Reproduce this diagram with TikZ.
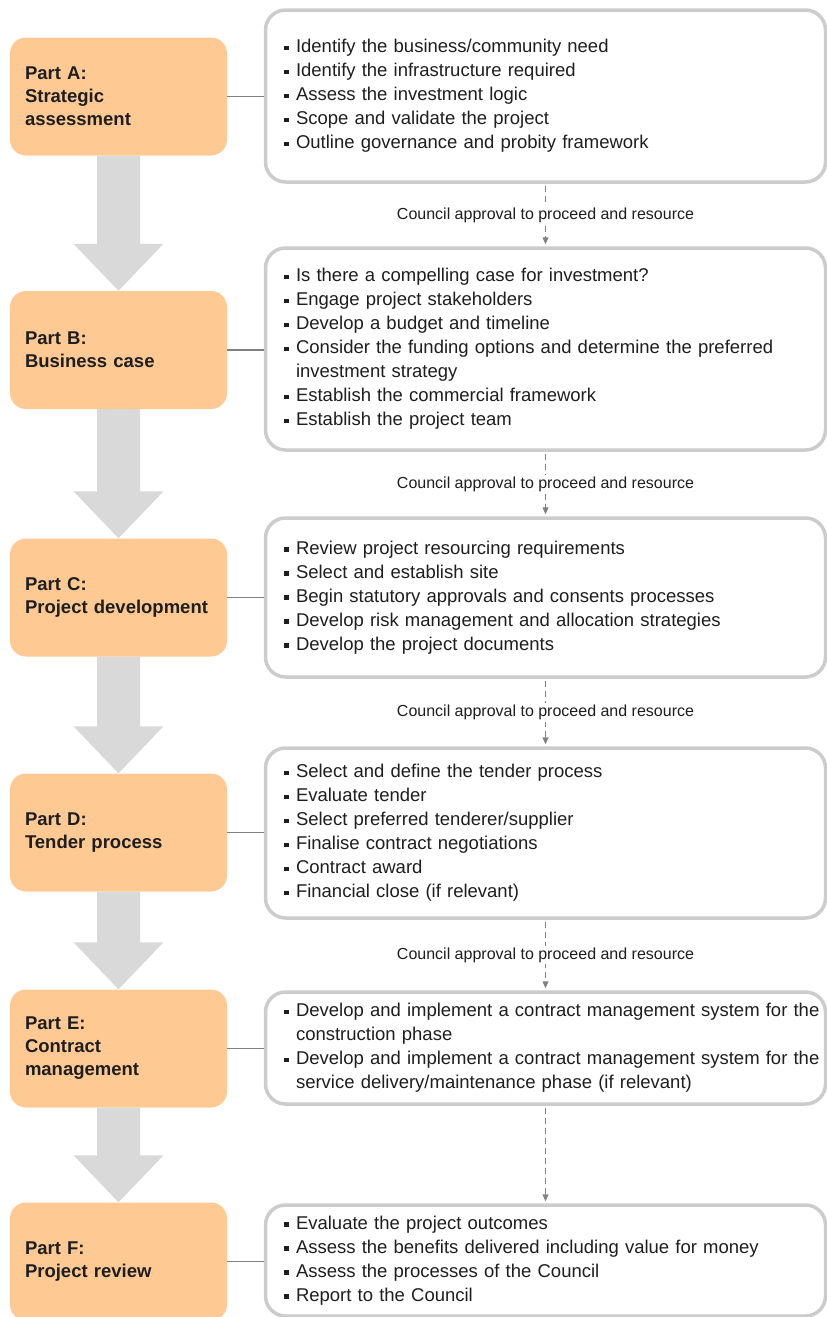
\documentclass[tikz,border=0pt]{standalone}
\usepackage{fontspec}
\setmainfont{Liberation Sans}
\usetikzlibrary{arrows.meta,calc}

\definecolor{partfill}{RGB}{255,201,148}
\definecolor{flowgray}{RGB}{217,217,217}
\definecolor{boxline}{RGB}{204,204,204}
\definecolor{linkgray}{RGB}{128,128,128}
\definecolor{inkgray}{RGB}{30,30,30}

% bullet lines for the task boxes
\newcommand{\bitem}[1]{\mbox{\makebox[12pt][l]{\rule[2.6pt]{4.6pt}{4.6pt}}#1}}
\newcommand{\bcont}[1]{\mbox{\hspace*{12pt}#1}}

\tikzset{
  partbox/.style={rectangle, rounded corners=16pt, fill=partfill, minimum width=217pt,
    minimum height=118pt, text width=187pt, align=left, inner sep=0pt, text=inkgray,
    font=\fontsize{18.5pt}{23pt}\selectfont\bfseries},
  listbox/.style={rectangle, rounded corners=20pt, draw=boxline, line width=3.5pt, fill=white,
    minimum width=560pt, text width=523pt, align=left, inner sep=0pt, text=inkgray,
    font=\fontsize{18.5pt}{24pt}\selectfont},
  approval/.style={fill=white, inner sep=2pt, text=inkgray, font=\fontsize{16pt}{19pt}\selectfont},
  gatearrow/.style={draw=linkgray, line width=1pt, dash pattern=on 6pt off 4pt,
    -{Triangle[length=7pt,width=6pt]}},
  linkline/.style={draw=linkgray, line width=1.5pt}
}

\begin{document}
\begin{tikzpicture}[x=1pt, y=-1pt]
  \clip (0,0) rectangle (827,1317);

  % stages
  \node[partbox] (partA) at (118.5,96.5) {Part A:\\Strategic\\assessment};
  \node[partbox] (partB) at (118.5,350) {Part B:\\Business case};
  \node[partbox] (partC) at (118.5,597.5) {Part C:\\Project development};
  \node[partbox] (partD) at (118.5,832.5) {Part D:\\Tender process};
  \node[partbox] (partE) at (118.5,1048.5) {Part E:\\Contract\\management};
  \node[partbox] (partF) at (118.5,1261.5) {Part F:\\Project review};

  % big flow arrows between stages
  \foreach \a/\b in {A/B,B/C,C/D,D/E,E/F}
    \fill[flowgray] ([xshift=-21.5pt]part\a.south) -- ([xshift=21.5pt]part\a.south)
      -- ([xshift=21.5pt,yshift=47pt]part\b.north) -- ([xshift=45pt,yshift=47pt]part\b.north)
      -- (part\b.north) -- ([xshift=-45pt,yshift=47pt]part\b.north)
      -- ([xshift=-21.5pt,yshift=47pt]part\b.north) -- cycle;

  % task lists
  \node[listbox, minimum height=172pt] (listA) at (545.5,96) {%
    \bitem{Identify the business/community need}\\
    \bitem{Identify the infrastructure required}\\
    \bitem{Assess the investment logic}\\
    \bitem{Scope and validate the project}\\
    \bitem{Outline governance and probity framework}};
  \node[listbox, minimum height=202pt] (listB) at (545.5,349) {%
    \bitem{Is there a compelling case for investment?}\\
    \bitem{Engage project stakeholders}\\
    \bitem{Develop a budget and timeline}\\
    \bitem{Consider the funding options and determine the preferred}\\
    \bcont{investment strategy}\\
    \bitem{Establish the commercial framework}\\
    \bitem{Establish the project team}};
  \node[listbox, minimum height=159pt] (listC) at (545.5,597.5) {%
    \bitem{Review project resourcing requirements}\\
    \bitem{Select and establish site}\\
    \bitem{Begin statutory approvals and consents processes}\\
    \bitem{Develop risk management and allocation strategies}\\
    \bitem{Develop the project documents}};
  \node[listbox, minimum height=170pt] (listD) at (545.5,833) {%
    \bitem{Select and define the tender process}\\
    \bitem{Evaluate tender}\\
    \bitem{Select preferred tenderer/supplier}\\
    \bitem{Finalise contract negotiations}\\
    \bitem{Contract award}\\
    \bitem{Financial close (if relevant)}};
  \node[listbox, minimum height=112pt] (listE) at (545.5,1048) {%
    \bitem{Develop and implement a contract management system for the}\\
    \bcont{construction phase}\\
    \bitem{Develop and implement a contract management system for the}\\
    \bcont{service delivery/maintenance phase (if relevant)}};
  \node[listbox, minimum height=111pt] (listF) at (545.5,1260.5) {%
    \bitem{Evaluate the project outcomes}\\
    \bitem{Assess the benefits delivered including value for money}\\
    \bitem{Assess the processes of the Council}\\
    \bitem{Report to the Council}};

  % stage to list links
  \foreach \p in {A,B,C,D,E,F}
    \draw[linkline] (part\p.east) -- (part\p.east -| list\p.west);

  % approval gates
  \foreach \a/\b in {A/B,B/C,C/D,D/E}
    \draw[gatearrow] ([yshift=-2pt]list\a.south) -- ([yshift=2pt]list\b.north)
      node[approval, midway] (gate\a) {Council approval to proceed and resource};
  \draw[gatearrow] ([yshift=-2pt]listE.south) -- ([yshift=2pt]listF.north);
\end{tikzpicture}
\end{document}
